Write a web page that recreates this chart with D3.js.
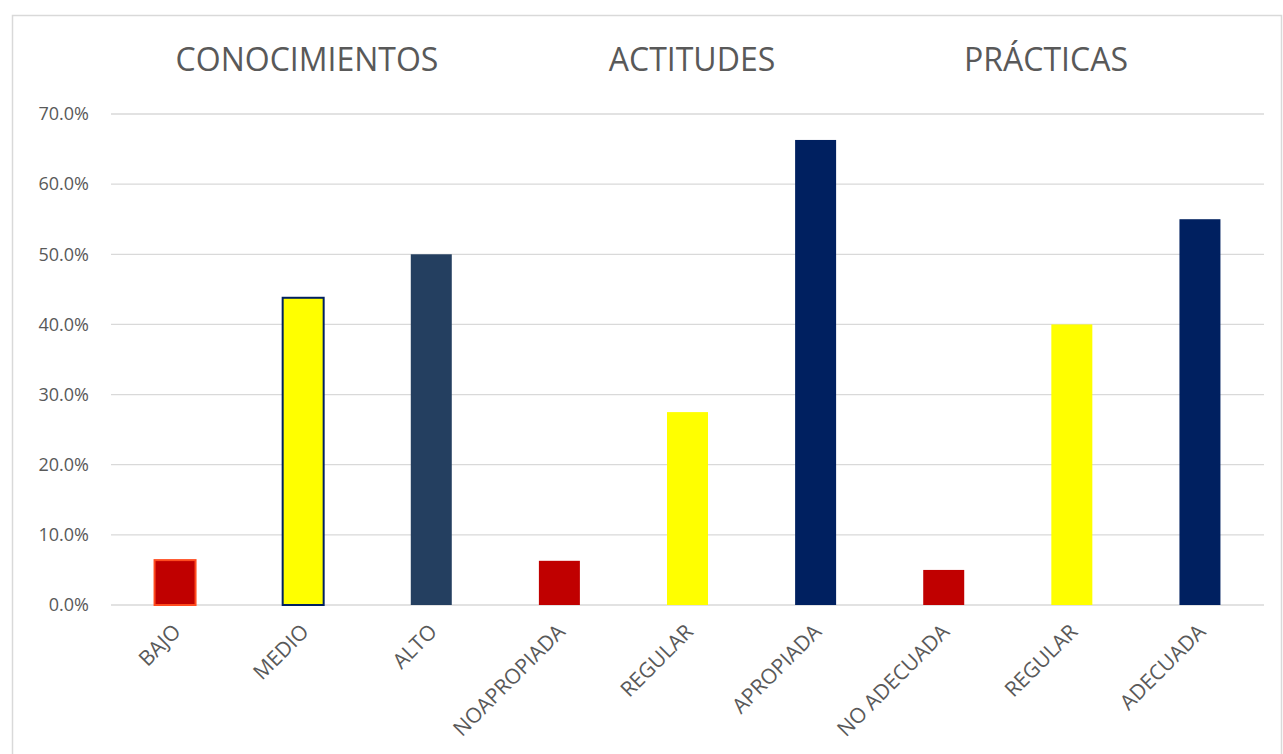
<html>
<head>
<meta charset="utf-8">
<script src="https://d3js.org/d3.v7.min.js"></script>
<style>
body { margin: 0; background: #fff; }
svg { font-family: "Open Sans", "Liberation Sans", sans-serif; }
</style>
</head>
<body>
<svg id="chart" width="1283" height="754"></svg>
<script>
var categories = ["BAJO", "MEDIO", "ALTO", "NOAPROPIADA", "REGULAR", "APROPIADA", "NO ADECUADA", "REGULAR ", "ADECUADA"];
var values = [0.064, 0.438, 0.50, 0.063, 0.275, 0.663, 0.05, 0.40, 0.55];
var fills = ["#C00000", "#FFFF00", "#243F60", "#C00000", "#FFFF00", "#002060", "#C00000", "#FFFF00", "#002060"];
var strokes = ["#FF4B1F", "#002060", "none", "none", "none", "none", "none", "none", "none"];
var groups = ["CONOCIMIENTOS", "ACTITUDES", "PRÁCTICAS"];
var yTicks = [0, 0.1, 0.2, 0.3, 0.4, 0.5, 0.6, 0.7];

var svg = d3.select("#chart");

// outer frame
svg.append("rect").attr("x", 12.5).attr("y", 15.5).attr("width", 1269).attr("height", 745)
  .attr("fill", "none").attr("stroke", "#d9d9d9").attr("stroke-width", 1.5);

var plotL = 111, plotR = 1264, plotT = 114, plotB = 605;

var x = d3.scaleBand().domain(categories).range([plotL, plotR]).paddingInner(0.68).paddingOuter(0.34);
var y = d3.scaleLinear().domain([0, 0.7]).range([plotB, plotT]);

// gridlines
svg.append("g").selectAll("line").data(yTicks).enter().append("line")
  .attr("x1", plotL).attr("x2", plotR)
  .attr("y1", function(d) { return y(d); }).attr("y2", function(d) { return y(d); })
  .attr("stroke", "#d9d9d9").attr("stroke-width", 1.3);

// y labels
svg.append("g").selectAll("text").data(yTicks).enter().append("text")
  .attr("x", 89).attr("y", function(d) { return y(d); })
  .attr("dy", "0.35em").attr("text-anchor", "end")
  .attr("font-size", 18).attr("fill", "#595959")
  .text(function(d) { return d3.format(".1%")(d); });

// bars
svg.append("g").selectAll("rect").data(categories).enter().append("rect")
  .attr("x", function(d) { return x(d); })
  .attr("y", function(d, i) { return y(values[i]); })
  .attr("width", x.bandwidth())
  .attr("height", function(d, i) { return plotB - y(values[i]); })
  .attr("fill", function(d, i) { return fills[i]; })
  .attr("stroke", function(d, i) { return strokes[i]; })
  .attr("stroke-width", 2);

// x labels
svg.append("g").selectAll("text").data(categories).enter().append("text")
  .attr("transform", function(d) { return "translate(" + (x(d) + x.bandwidth() / 2 + 7) + "," + 633 + ") rotate(-45)"; })
  .attr("text-anchor", "end")
  .attr("font-size", 21).attr("fill", "#595959")
  .text(function(d) { return d.trim(); });

// group titles
var gx = [307, 692, 1046];
svg.append("g").selectAll("text").data(groups).enter().append("text")
  .attr("x", function(d, i) { return gx[i]; }).attr("y", 71)
  .attr("text-anchor", "middle")
  .attr("font-size", 32).attr("fill", "#595959")
  .text(function(d) { return d; });
</script>
</body>
</html>
